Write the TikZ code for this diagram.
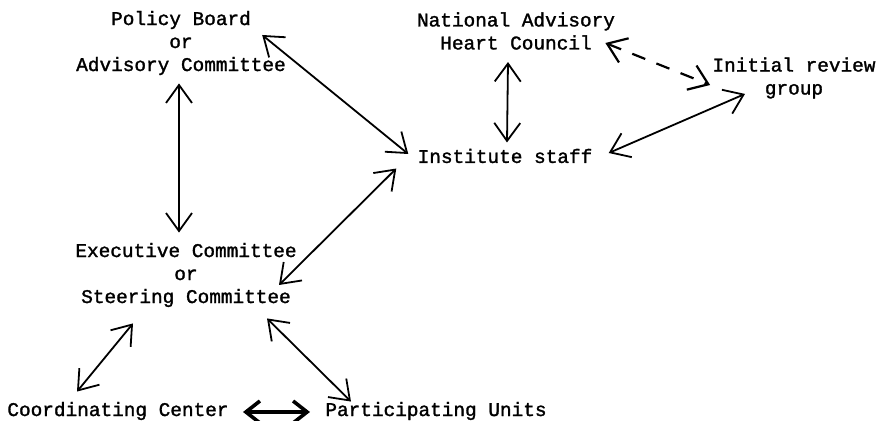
\documentclass[tikz,border=0pt]{standalone}
\usepackage{fontspec}
\newfontfamily\typer{Liberation Mono}[FakeBold=1.5]
\usetikzlibrary{arrows.meta}

\begin{document}
\begin{tikzpicture}[x=0.5pt,y=-0.5pt,
    unit/.style={inner sep=0pt, align=center, font=\typer\fontsize{9.7}{11.5}\selectfont},
    link/.style={line width=0.9pt, {Straight Barb[length=9pt,width=13pt]}-{Straight Barb[length=9pt,width=13pt]}},
    weak/.style={link, line width=1.1pt, dash pattern=on 7pt off 6pt},
    strong/.style={line width=1.8pt, {Straight Barb[length=7pt,width=11pt]}-{Straight Barb[length=7pt,width=11pt]}}]
    \useasboundingbox (0,0) rectangle (879,421);
    % Boards and committees
    \node[unit] (board) at (181,43) {Policy Board\\or\\Advisory Committee};
    \node[unit] (exec) at (186,275) {Executive Committee\\or\\Steering Committee};
    % Council, staff and review group
    \node[unit] (council) at (516,31) {National Advisory\\Heart Council};
    \node[unit] (staff) at (505,156) {Institute staff};
    \node[unit] (review) at (794,78) {Initial review\\group};
    % Units at the bottom
    \node[unit] (center) at (118,411) {Coordinating Center};
    \node[unit] (units) at (436,411) {Participating Units};
    % Links from the policy board
    \draw[link] ([shift={(-24,-8)}]board.east) -- ([shift={(-9,-2)}]staff.west);
    \draw[link] ([shift={(-2,8)}]board.south) -- ([shift={(-7,-10)}]exec.north);
    % Links round the institute staff
    \draw[link] ([shift={(-8,12)}]council.south) -- ([shift={(2,-6)}]staff.north);
    \draw[weak] ([shift={(-10,12)}]council.east) -- ([shift={(-2,7)}]review.west);
    \draw[link] ([shift={(16,-3)}]staff.east) -- ([shift={(-49,-5)}]review.south);
    \draw[link] ([shift={(-21,5)}]staff.south west) -- ([shift={(-18,10)}]exec.east);
    % Links from the steering committee
    \draw[link] ([shift={(-53,16)}]exec.south) -- ([shift={(-41,-10)}]center.north);
    \draw[link] ([shift={(-30,11)}]exec.south east) -- ([shift={(26,0)}]units.north west);
    \draw[strong] ([shift={(14,1)}]center.east) -- ([shift={(-15,1)}]units.west);
\end{tikzpicture}
\end{document}
